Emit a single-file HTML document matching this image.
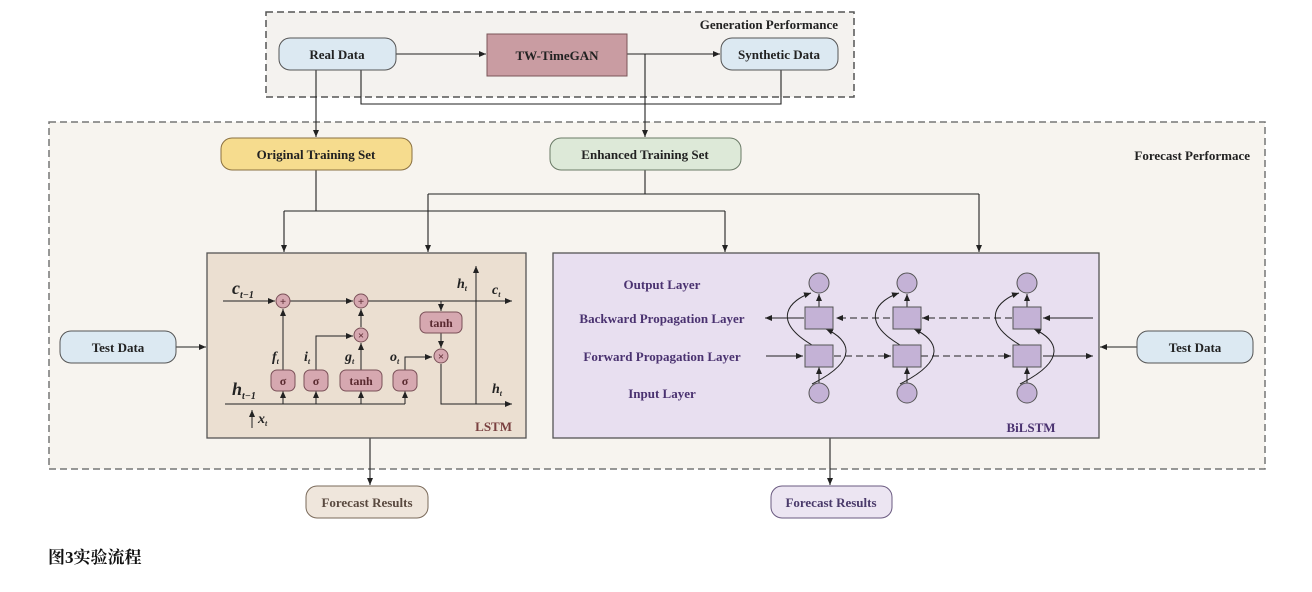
<!DOCTYPE html>
<html><head><meta charset="utf-8"><style>
body{margin:0;background:#fff;}
svg text{font-family:"Liberation Serif",serif;font-weight:bold;}
</style></head><body>
<svg width="1312" height="587" viewBox="0 0 1312 587" xmlns="http://www.w3.org/2000/svg">
<defs>
<marker id="a" markerWidth="8" markerHeight="8" refX="7" refY="4" orient="auto" markerUnits="userSpaceOnUse"><path d="M0,1 L7,4 L0,7z" fill="#222"/></marker>
</defs>
<g stroke="#222" stroke-width="1.2" fill="none">
<!-- top dashed box -->
<rect x="266" y="12" width="588" height="85" fill="#f4f2ef" stroke="#555" stroke-dasharray="7,4" stroke-width="1.5"/>
<!-- big dashed box -->
<rect x="49" y="122" width="1216" height="347" fill="#f7f4ef" stroke="#777" stroke-dasharray="7,4" stroke-width="1.5"/>
</g>
<text x="838" y="29" font-size="13" text-anchor="end" fill="#222">Generation Performance</text>
<text x="1250" y="160" font-size="13" text-anchor="end" fill="#222">Forecast Performace</text>

<g stroke="#222" stroke-width="1.1" fill="none">
<line x1="396" y1="54" x2="486" y2="54" marker-end="url(#a)"/>
<line x1="627" y1="54" x2="720" y2="54" marker-end="url(#a)"/>
<line x1="645" y1="54" x2="645" y2="137" marker-end="url(#a)"/>
<polyline points="361,70 361,104 781,104 781,70"/>
<line x1="316" y1="70" x2="316" y2="137" marker-end="url(#a)"/>
<polyline points="316,170 316,211"/>
<line x1="284" y1="211" x2="725" y2="211"/>
<line x1="284" y1="211" x2="284" y2="252" marker-end="url(#a)"/>
<line x1="725" y1="211" x2="725" y2="252" marker-end="url(#a)"/>
<line x1="645" y1="170" x2="645" y2="194"/>
<line x1="428" y1="194" x2="979" y2="194"/>
<line x1="428" y1="194" x2="428" y2="252" marker-end="url(#a)"/>
<line x1="979" y1="194" x2="979" y2="252" marker-end="url(#a)"/>
<line x1="176" y1="347" x2="206" y2="347" marker-end="url(#a)"/>
<line x1="1137" y1="347" x2="1100" y2="347" marker-end="url(#a)"/>
<line x1="370" y1="438" x2="370" y2="485" marker-end="url(#a)"/>
<line x1="830" y1="438" x2="830" y2="485" marker-end="url(#a)"/>
</g>

<!-- top nodes -->
<rect x="279" y="38" width="117" height="32" rx="11" fill="#dce9f2" stroke="#555"/>
<text x="337" y="59" font-size="13" text-anchor="middle" fill="#222">Real Data</text>
<rect x="487" y="34" width="140" height="42" fill="#c99ca2" stroke="#7a5558"/>
<text x="557" y="60" font-size="13" text-anchor="middle" fill="#222">TW-TimeGAN</text>
<rect x="721" y="38" width="117" height="32" rx="11" fill="#dce9f2" stroke="#555"/>
<text x="779" y="59" font-size="13" text-anchor="middle" fill="#222">Synthetic Data</text>

<rect x="221" y="138" width="191" height="32" rx="11" fill="#f6dc8e" stroke="#8a7040"/>
<text x="316" y="159" font-size="13" text-anchor="middle" fill="#222">Original Training Set</text>
<rect x="550" y="138" width="191" height="32" rx="11" fill="#dde9d8" stroke="#6a7a66"/>
<text x="645" y="159" font-size="13" text-anchor="middle" fill="#222">Enhanced Training Set</text>

<rect x="60" y="331" width="116" height="32" rx="11" fill="#dce9f2" stroke="#555"/>
<text x="118" y="352" font-size="13" text-anchor="middle" fill="#222">Test Data</text>
<rect x="1137" y="331" width="116" height="32" rx="11" fill="#dce9f2" stroke="#555"/>
<text x="1195" y="352" font-size="13" text-anchor="middle" fill="#222">Test Data</text>

<rect x="306" y="486" width="122" height="32" rx="11" fill="#efe6dc" stroke="#7a6a5a"/>
<text x="367" y="507" font-size="13" text-anchor="middle" fill="#5a4a40">Forecast Results</text>
<rect x="771" y="486" width="121" height="32" rx="11" fill="#ece5f2" stroke="#6a5a80"/>
<text x="831" y="507" font-size="13" text-anchor="middle" fill="#4a3a6a">Forecast Results</text>

<!-- LSTM -->
<rect x="207" y="253" width="319" height="185" fill="#ebdfd1" stroke="#555" stroke-width="1.3"/>
<text x="512" y="431" font-size="13" text-anchor="end" fill="#7a4040">LSTM</text>
<g stroke="#222" stroke-width="1" fill="none">
<line x1="223" y1="301" x2="275" y2="301" marker-end="url(#a)"/>
<line x1="290" y1="301" x2="353" y2="301" marker-end="url(#a)"/>
<line x1="368" y1="301" x2="512" y2="301" marker-end="url(#a)"/>
<line x1="441" y1="301" x2="441" y2="311" marker-end="url(#a)"/>
<line x1="441" y1="333" x2="441" y2="348" marker-end="url(#a)"/>
<line x1="361" y1="327" x2="361" y2="309" marker-end="url(#a)"/>
<line x1="361" y1="370" x2="361" y2="343" marker-end="url(#a)"/>
<polyline points="316,370 316,336 353,336" marker-end="url(#a)"/>
<line x1="283" y1="370" x2="283" y2="309" marker-end="url(#a)"/>
<polyline points="405,370 405,357 432,357" marker-end="url(#a)"/>
<line x1="225" y1="404" x2="405" y2="404"/>
<line x1="283" y1="404" x2="283" y2="391" marker-end="url(#a)"/>
<line x1="316" y1="404" x2="316" y2="391" marker-end="url(#a)"/>
<line x1="361" y1="404" x2="361" y2="391" marker-end="url(#a)"/>
<line x1="405" y1="404" x2="405" y2="391" marker-end="url(#a)"/>
<polyline points="441,364 441,404 512,404" marker-end="url(#a)"/>
<line x1="476" y1="404" x2="476" y2="266" marker-end="url(#a)"/>
<line x1="252" y1="428" x2="252" y2="410" marker-end="url(#a)"/>
</g>
<g fill="#d6a8b0" stroke="#7a5058" stroke-width="1">
<circle cx="283" cy="301" r="7"/><circle cx="361" cy="301" r="7"/><circle cx="361" cy="335" r="7"/><circle cx="441" cy="356" r="7"/>
<rect x="271" y="370" width="24" height="21" rx="6"/><rect x="304" y="370" width="24" height="21" rx="6"/>
<rect x="340" y="370" width="42" height="21" rx="6"/><rect x="393" y="370" width="24" height="21" rx="6"/>
<rect x="420" y="312" width="42" height="21" rx="6"/>
</g>
<g font-size="11" text-anchor="middle" fill="#5a2a30">
<text x="283" y="305">+</text><text x="361" y="305">+</text><text x="361" y="339">×</text><text x="441" y="360">×</text>
<text x="283" y="385" font-size="12">σ</text><text x="316" y="385" font-size="12">σ</text><text x="361" y="385" font-size="12">tanh</text><text x="405" y="385" font-size="12">σ</text><text x="441" y="327" font-size="12">tanh</text>
</g>
<g font-style="italic" font-weight="normal" fill="#222">
<text x="232" y="294" font-size="18" font-weight="normal">c<tspan font-size="10" dy="4">t−1</tspan></text>
<text x="232" y="395" font-size="18" font-weight="normal">h<tspan font-size="10" dy="4">t−1</tspan></text>
<text x="272" y="361" font-size="14" font-weight="normal">f<tspan font-size="8" dy="3">t</tspan></text>
<text x="304" y="361" font-size="14" font-weight="normal">i<tspan font-size="8" dy="3">t</tspan></text>
<text x="345" y="361" font-size="14" font-weight="normal">g<tspan font-size="8" dy="3">t</tspan></text>
<text x="390" y="361" font-size="14" font-weight="normal">o<tspan font-size="8" dy="3">t</tspan></text>
<text x="457" y="288" font-size="14" font-weight="normal">h<tspan font-size="8" dy="3">t</tspan></text>
<text x="492" y="294" font-size="14" font-weight="normal">c<tspan font-size="8" dy="3">t</tspan></text>
<text x="492" y="393" font-size="14" font-weight="normal">h<tspan font-size="8" dy="3">t</tspan></text>
<text x="258" y="423" font-size="14" font-weight="normal">x<tspan font-size="8" dy="3">t</tspan></text>
</g>

<!-- BiLSTM -->
<rect x="553" y="253" width="546" height="185" fill="#e8dff0" stroke="#555" stroke-width="1.3"/>
<g font-size="13" text-anchor="middle" fill="#4a3270">
<text x="662" y="289">Output Layer</text>
<text x="662" y="323">Backward Propagation Layer</text>
<text x="662" y="361">Forward Propagation Layer</text>
<text x="662" y="398">Input Layer</text>
<text x="1031" y="432" font-size="13">BiLSTM</text>
</g>
<g stroke="#222" stroke-width="1" fill="none">
<line x1="804" y1="318" x2="765" y2="318" marker-end="url(#a)"/>
<line x1="890" y1="318" x2="836" y2="318" stroke-dasharray="7,4" marker-end="url(#a)"/>
<line x1="1012" y1="318" x2="922" y2="318" stroke-dasharray="7,4" marker-end="url(#a)"/>
<line x1="1093" y1="318" x2="1043" y2="318" marker-end="url(#a)"/>
<line x1="766" y1="356" x2="803" y2="356" marker-end="url(#a)"/>
<line x1="834" y1="356" x2="891" y2="356" stroke-dasharray="7,4" marker-end="url(#a)"/>
<line x1="921" y1="356" x2="1011" y2="356" stroke-dasharray="7,4" marker-end="url(#a)"/>
<line x1="1043" y1="356" x2="1093" y2="356" marker-end="url(#a)"/>
</g>
<g id="col">
<g stroke="#222" stroke-width="1" fill="none">
<line x1="819" y1="307" x2="819" y2="294" marker-end="url(#a)"/>
<line x1="819" y1="383" x2="819" y2="367" marker-end="url(#a)"/>
<path d="M812,345 C770,320 790,300 811,293" marker-end="url(#a)"/>
<path d="M812,384 C860,360 850,340 826,329" marker-end="url(#a)"/>
</g>
<circle cx="819" cy="283" r="10" fill="#c4b2d6" stroke="#555"/>
<circle cx="819" cy="393" r="10" fill="#c4b2d6" stroke="#555"/>
<rect x="805" y="307" width="28" height="22" fill="#c4b2d6" stroke="#555"/>
<rect x="805" y="345" width="28" height="22" fill="#c4b2d6" stroke="#555"/>
</g>
<use href="#col" x="88"/>
<use href="#col" x="208"/>

<text x="48" y="563" font-size="17" fill="#111" style="font-family:'Liberation Serif','Noto Serif CJK SC',serif">图3实验流程</text>
</svg>
</body></html>
